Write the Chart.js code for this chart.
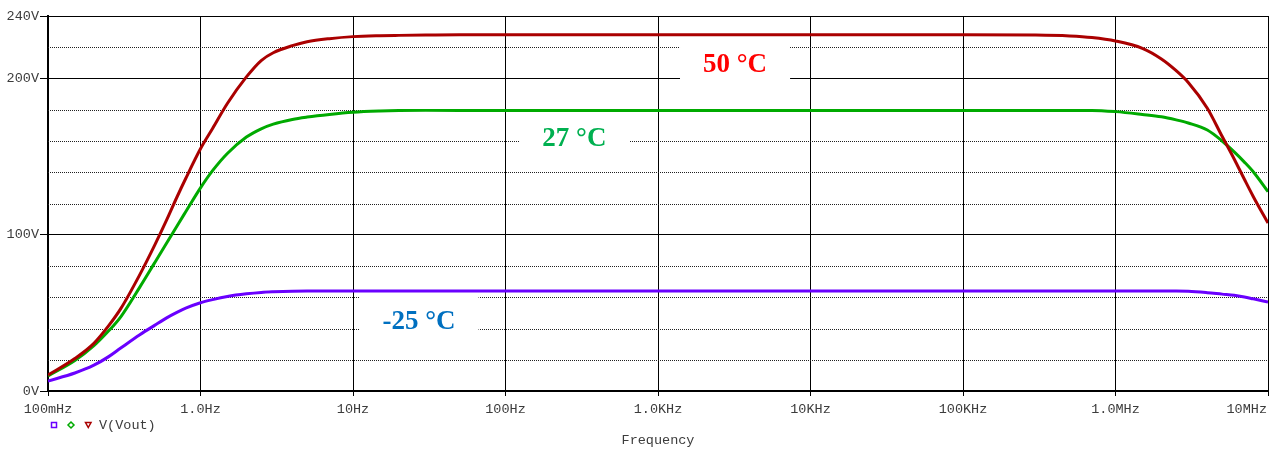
<!DOCTYPE html>
<html>
<head>
<meta charset="utf-8">
<title>V(Vout) vs Frequency</title>
<script src="https://cdn.jsdelivr.net/npm/chart.js@4.4.1/dist/chart.umd.min.js"></script>
<style>
  html, body { margin: 0; padding: 0; background: #fff; }
  canvas { display: block; }
</style>
</head>
<body>
<canvas id="c" width="1271" height="449"></canvas>
<script>
// AC sweep of V(Vout) at three temperatures
const freqHz = [0.1, 0.15, 0.2, 0.25, 0.3, 0.4, 0.5, 0.6, 0.7, 0.8,
  1, 1.2, 1.5, 2, 2.5, 3, 4, 5, 7, 10,
  15, 20, 30, 50, 100, 1e3, 1e4, 1e5, 3e5, 5e5,
  7e5, 1e6, 1.5e6, 2e6, 2.5e6, 3e6, 4e6, 5e6, 6e6, 7e6,
  8e6, 1e7];

const vout50C = [10.2, 20.8, 30.5, 41.8, 52.7, 74.5, 93.2, 109.5, 124, 136,
  155, 168, 184, 201, 211.5, 216.5, 221, 223.5, 225.5, 226.8,
  227.4, 227.6, 227.8, 228, 228, 228, 228, 228, 227.8, 227.2,
  226.2, 224, 219.3, 212.5, 205, 197.5, 181, 163, 148.5, 135.5,
  124.5, 107.5];

const vout27C = [9.6, 19.5, 29, 38.5, 47.5, 66.5, 82, 94.7, 105.5, 114.7,
  130, 141, 152, 162.5, 167.8, 170.8, 173.8, 175.3, 177, 178.4,
  179.2, 179.5, 179.6, 179.6, 179.6, 179.6, 179.6, 179.6, 179.6, 179.6,
  179.6, 178.8, 177, 175.5, 173.5, 171.5, 167, 160, 153, 146.5,
  140.3, 127.6];

const voutMinus25C = [6.4, 11.5, 16.5, 22, 27.5, 36, 42, 46.8, 50.3, 53,
  56.5, 58.5, 60.5, 62.2, 63.1, 63.5, 63.9, 64, 64, 64,
  64, 64, 64, 64, 64, 64, 64, 64, 64, 64,
  64, 64, 64, 64, 64, 63.8, 62.9, 62, 61.3, 60.2,
  59, 57];

const xTickValues = [0.1, 1, 10, 100, 1e3, 1e4, 1e5, 1e6, 1e7];
const xTickLabels = ['100mHz', '1.0Hz', '10Hz', '100Hz', '1.0KHz', '10KHz', '100KHz', '1.0MHz', '10MHz'];
const yTickValues = [0, 100, 200, 240];
const yTickLabels = ['0V', '100V', '200V', '240V'];
const yMinorValues = [20, 40, 60, 80, 120, 140, 160, 180, 220];

const traceName = 'V(Vout)';
const axisTitle = 'Frequency';

// temperature tags placed on the plot (frequency, volts)
const tempTags = [
  { text: '50 °C', color: '#ff0000', freq: 3200, volts: 208.6 },
  { text: '27 °C', color: '#00b050', freq: 283, volts: 161.3 },
  { text: '-25 °C', color: '#0070c0', freq: 27.1, volts: 44.2 }
];

const RED = '#aa0000', GREEN = '#00aa00', PURPLE = '#6a00ff';
const MONO = '"Liberation Mono", "DejaVu Sans Mono", monospace';
const TEXT_GREY = '#3c3c3c';

const toPoints = ys => freqHz.map((f, i) => ({ x: f, y: ys[i] }));

const decor = {
  id: 'decor',
  beforeDatasetsDraw(chart) {
    const { ctx, chartArea: a, scales: { x, y } } = chart;
    ctx.save();
    // dotted minor grid
    ctx.strokeStyle = '#202020';
    ctx.lineWidth = 1;
    ctx.setLineDash([1, 1]);
    yMinorValues.forEach(v => {
      const py = Math.round(y.getPixelForValue(v)) + 0.5;
      ctx.beginPath();
      ctx.moveTo(a.left, py);
      ctx.lineTo(a.right, py);
      ctx.stroke();
    });
    ctx.setLineDash([]);
    // white plates behind the temperature tags
    ctx.font = 'bold 27px "Liberation Serif", "Times New Roman", serif';
    ctx.fillStyle = '#fff';
    tempTags.forEach(t => {
      const cx = x.getPixelForValue(t.freq), cy = y.getPixelForValue(t.volts);
      const w = ctx.measureText(t.text).width;
      ctx.fillRect(cx - w / 2 - 23, cy - 28, w + 46, 52);
    });
    ctx.restore();
  },
  afterDatasetsDraw(chart) {
    const { ctx, scales: { x, y } } = chart;
    ctx.save();
    ctx.font = 'bold 27px "Liberation Serif", "Times New Roman", serif';
    ctx.textAlign = 'center';
    ctx.textBaseline = 'middle';
    tempTags.forEach(t => {
      ctx.fillStyle = t.color;
      ctx.fillText(t.text, x.getPixelForValue(t.freq), y.getPixelForValue(t.volts));
    });
    ctx.restore();
  },
  afterDraw(chart) {
    const { ctx, chartArea: a, scales: { x } } = chart;
    ctx.save();
    ctx.font = '13.5px ' + MONO;
    ctx.fillStyle = TEXT_GREY;
    ctx.textBaseline = 'middle';
    ctx.textAlign = 'left';
    // frequency tick labels, kept inside the canvas
    xTickValues.forEach((v, i) => {
      const label = xTickLabels[i];
      const w = ctx.measureText(label).width;
      let left = x.getPixelForValue(v) - w / 2;
      left = Math.max(1, Math.min(left, chart.width - 4 - w));
      ctx.fillText(label, left, a.bottom + 18);
    });
    // trace legend: one marker per temperature, then the trace name
    const ly = a.bottom + 34;
    ctx.lineWidth = 1.5;
    ctx.strokeStyle = PURPLE;
    ctx.strokeRect(51.5, ly - 2.5, 5, 5);
    ctx.strokeStyle = GREEN;
    ctx.beginPath();
    ctx.moveTo(71, ly - 3); ctx.lineTo(74, ly); ctx.lineTo(71, ly + 3); ctx.lineTo(68, ly); ctx.closePath();
    ctx.stroke();
    ctx.strokeStyle = RED;
    ctx.beginPath();
    ctx.moveTo(85.5, ly - 2.5); ctx.lineTo(91, ly - 2.5); ctx.lineTo(88.25, ly + 2.5); ctx.closePath();
    ctx.stroke();
    ctx.fillStyle = TEXT_GREY;
    ctx.fillText(traceName, 99, ly + 0.5);
    ctx.restore();
  }
};

const lineStyle = color => ({
  borderColor: color,
  backgroundColor: color,
  borderWidth: 3,
  pointRadius: 0,
  fill: false,
  cubicInterpolationMode: 'monotone'
});

new Chart(document.getElementById('c'), {
  type: 'line',
  data: {
    datasets: [
      { label: tempTags[0].text, data: toPoints(vout50C), ...lineStyle(RED) },
      { label: tempTags[1].text, data: toPoints(vout27C), ...lineStyle(GREEN) },
      { label: tempTags[2].text, data: toPoints(voutMinus25C), ...lineStyle(PURPLE) }
    ]
  },
  options: {
    responsive: false,
    animation: false,
    devicePixelRatio: 1,
    layout: { padding: { top: 16, right: 3, left: 0, bottom: 0 } },
    plugins: { legend: { display: false }, tooltip: { enabled: false } },
    scales: {
      x: {
        type: 'logarithmic',
        min: 0.1,
        max: 1e7,
        afterBuildTicks: s => { s.ticks = xTickValues.map(v => ({ value: v })); },
        afterFit: s => { s.height = 58; },
        ticks: { display: false },
        grid: { color: '#000', lineWidth: 1, tickLength: 5, drawTicks: true },
        border: { color: '#000', width: 2 },
        title: {
          display: true,
          text: axisTitle,
          color: TEXT_GREY,
          font: { family: MONO, size: 13.5 },
          padding: { top: 0, bottom: 0 }
        }
      },
      y: {
        type: 'linear',
        min: 0,
        max: 240,
        afterBuildTicks: s => { s.ticks = yTickValues.map(v => ({ value: v })); },
        afterFit: s => { s.width = 48; },
        ticks: {
          color: TEXT_GREY,
          font: { family: MONO, size: 13.5 },
          padding: 1,
          callback: v => yTickLabels[yTickValues.indexOf(v)]
        },
        grid: { color: '#000', lineWidth: 1, tickLength: 8 },
        border: { color: '#000', width: 2 }
      }
    }
  },
  plugins: [decor]
});
</script>
</body>
</html>
